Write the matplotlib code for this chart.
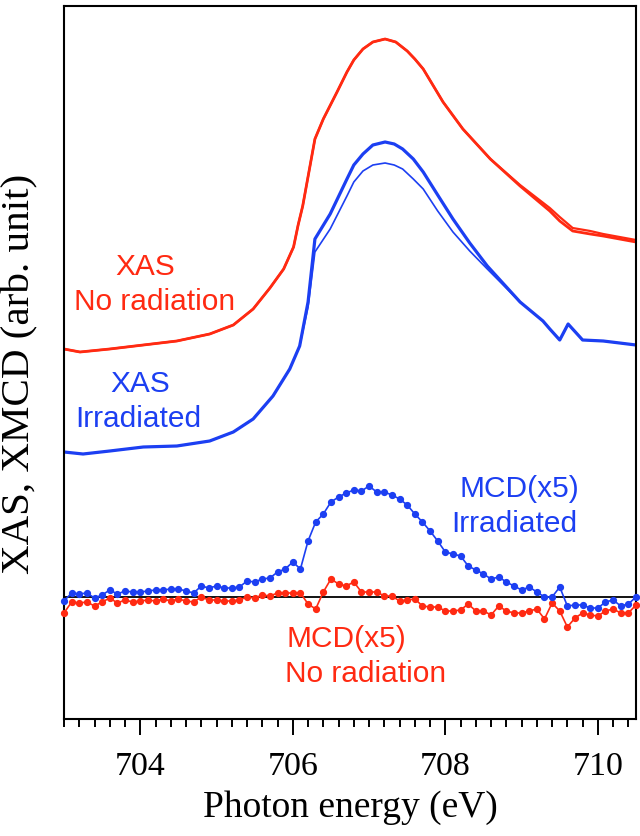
import numpy as np
import matplotlib
matplotlib.use("Agg")
import matplotlib.pyplot as plt
from matplotlib.ticker import MultipleLocator

plt.rcParams['font.family'] = ['Liberation Serif', 'DejaVu Serif']

RED = '#FF2A12'
BLUE = '#1C3FF2'

# ---- XAS, no radiation (two nearly identical scans) ----
xas_red_e = [703.00, 703.21, 703.60, 704.04, 704.48, 704.91, 705.22, 705.48, 705.70, 705.88,
             706.01, 706.07, 706.13, 706.29, 706.40, 706.58, 706.71, 706.80, 706.92, 707.05,
             707.21, 707.35, 707.50, 707.60, 707.71, 707.97, 708.23, 708.59, 708.98, 709.37,
             709.50, 709.67, 709.90, 710.07, 710.50]
xas_red_1 = [2.48, 2.45, 2.48, 2.52, 2.56, 2.63, 2.72, 2.88, 3.09, 3.28,
             3.50, 3.72, 3.91, 4.58, 4.78, 5.05, 5.25, 5.37, 5.48, 5.55,
             5.58, 5.55, 5.46, 5.38, 5.28, 4.95, 4.68, 4.38, 4.11, 3.86,
             3.76, 3.66, 3.63, 3.61, 3.55]
xas_red_2 = [2.48, 2.45, 2.48, 2.52, 2.56, 2.63, 2.72, 2.88, 3.09, 3.28,
             3.50, 3.72, 3.91, 4.58, 4.78, 5.05, 5.25, 5.37, 5.48, 5.55,
             5.58, 5.55, 5.46, 5.38, 5.28, 4.95, 4.68, 4.38, 4.12, 3.89,
             3.80, 3.69, 3.66, 3.63, 3.57]

# ---- XAS, irradiated (thick and thin scans) ----
xas_blue_e = [703.00, 703.25, 703.60, 704.04, 704.48, 704.91, 705.22, 705.48, 705.74, 705.96,
              706.09, 706.20, 706.29, 706.49, 706.71, 706.80, 706.92, 707.05, 707.21, 707.33,
              707.44, 707.58, 707.71, 707.90, 708.10, 708.32, 708.55, 708.98, 709.28, 709.37,
              709.50, 709.61, 709.80, 710.07, 710.50]
xas_blue_1 = [1.45, 1.43, 1.46, 1.50, 1.51, 1.56, 1.65, 1.78, 2.01, 2.28,
              2.51, 2.95, 3.58, 3.83, 4.18, 4.32, 4.43, 4.52, 4.55, 4.53,
              4.48, 4.38, 4.25, 4.02, 3.78, 3.54, 3.31, 2.95, 2.76, 2.68,
              2.57, 2.73, 2.57, 2.56, 2.52]
xas_blue_2 = [1.45, 1.43, 1.46, 1.50, 1.51, 1.56, 1.65, 1.78, 2.01, 2.28,
              2.51, 2.90, 3.45, 3.68, 4.01, 4.15, 4.26, 4.32, 4.34, 4.32,
              4.28, 4.18, 4.08, 3.86, 3.65, 3.46, 3.28, 2.95, 2.76, 2.68,
              2.57, 2.73, 2.57, 2.56, 2.52]

# ---- MCD (x5) on a 0.1 eV grid ----
mcd_e = np.linspace(703.0, 710.5, 76)
mcd_blue = [-0.04, 0.04, 0.03, 0.04, -0.01, 0.02, 0.07, 0.03, 0.06, 0.05,
            0.05, 0.06, 0.07, 0.07, 0.08, 0.08, 0.06, 0.04, 0.11, 0.09,
            0.11, 0.09, 0.09, 0.10, 0.16, 0.15, 0.18, 0.19, 0.25, 0.28,
            0.35, 0.28, 0.56, 0.75, 0.83, 0.95, 1.00, 1.04, 1.07, 1.06,
            1.11, 1.05, 1.05, 1.02, 0.98, 0.92, 0.83, 0.75, 0.66, 0.56,
            0.45, 0.43, 0.41, 0.31, 0.27, 0.23, 0.18, 0.20, 0.15, 0.11,
            0.07, 0.10, 0.05, 0.00, 0.00, 0.10, -0.09, -0.08, -0.08, -0.11,
            -0.11, -0.05, -0.03, -0.09, -0.07, 0.00]
mcd_red = [-0.16, -0.05, -0.06, -0.05, -0.09, -0.05, -0.01, -0.06, -0.03, -0.05,
           -0.04, -0.03, -0.04, -0.02, -0.04, -0.02, -0.04, -0.05, 0.00, -0.03,
           -0.03, -0.04, -0.04, -0.03, 0.00, -0.01, 0.02, 0.01, 0.04, 0.04,
           0.04, 0.04, -0.07, -0.12, 0.05, 0.18, 0.13, 0.11, 0.15, 0.05,
           0.05, 0.05, 0.01, 0.01, -0.04, -0.03, -0.02, -0.09, -0.10, -0.10,
           -0.14, -0.14, -0.13, -0.07, -0.14, -0.14, -0.18, -0.09, -0.14, -0.16,
           -0.16, -0.14, -0.12, -0.22, -0.06, -0.14, -0.30, -0.21, -0.16, -0.18,
           -0.19, -0.14, -0.12, -0.16, -0.16, -0.08]

xticks = [704, 706, 708, 710]

fig = plt.figure(figsize=(6.4, 8.37), dpi=100)
ax = fig.add_axes([0.1, 1 - 720 / 837, 572 / 640, 713 / 837])

ax.axhline(0, color='black', lw=1.3, zorder=1)

ax.plot(xas_red_e, xas_red_2, color=RED, lw=1.6, zorder=2)
ax.plot(xas_red_e, xas_red_1, color=RED, lw=2.0, zorder=2)
ax.plot(xas_blue_e, xas_blue_2, color=BLUE, lw=1.2, zorder=2)
ax.plot(xas_blue_e, xas_blue_1, color=BLUE, lw=2.3, zorder=2)

ax.plot(mcd_e, mcd_red, color=RED, lw=1.2, marker='o', ms=4.2, clip_on=False, zorder=3)
ax.plot(mcd_e, mcd_blue, color=BLUE, lw=1.2, marker='o', ms=4.2, clip_on=False, zorder=3)

ax.set_xlim(703.0, 710.5)
ax.set_ylim(-1.22, 5.91)

ax.set_xticks(xticks)
ax.set_xticklabels([str(t) for t in xticks])
ax.xaxis.set_minor_locator(MultipleLocator(0.2))
ax.tick_params(axis='x', which='major', direction='out', length=11.5, width=1.4,
               labelsize=24.5, pad=11)
ax.tick_params(axis='x', which='minor', direction='out', length=5.8, width=1.4)
ax.tick_params(axis='x', top=False)
ax.set_yticks([])
for s in ax.spines.values():
    s.set_linewidth(1.5)

ax.set_xlabel('Photon energy (eV)', fontsize=27, labelpad=6)
fig.text(0.031, 0.553, 'XAS, XMCD (arb. unit)', rotation=90, fontsize=29.5,
         ha='center', va='center')

tkw = dict(fontsize=21.5, family=['Liberation Sans', 'DejaVu Sans'], va='baseline')
ax.text(704.06, 3.23, 'XAS', color=RED, ha='center', **tkw)
ax.text(704.19, 2.88, 'No radiation', color=RED, ha='center', **tkw)
ax.text(704.00, 2.06, 'XAS', color=BLUE, ha='center', **tkw)
ax.text(703.98, 1.71, 'Irradiated', color=BLUE, ha='center', **tkw)
ax.text(708.97, 1.01, 'MCD(x5)', color=BLUE, ha='center', **tkw)
ax.text(708.90, 0.66, 'Irradiated', color=BLUE, ha='center', **tkw)
ax.text(705.92, -0.49, 'MCD(x5)', color=RED, ha='left', **tkw)
ax.text(705.90, -0.84, 'No radiation', color=RED, ha='left', **tkw)

fig.savefig('out.png', dpi=100)
